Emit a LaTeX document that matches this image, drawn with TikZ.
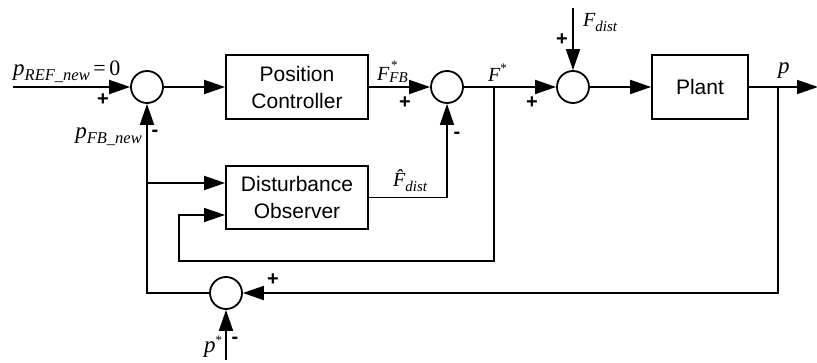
\documentclass[tikz,border=0pt]{standalone}
\usepackage{fontspec}
\setmainfont{Liberation Sans}
\newfontfamily\tms{Liberation Serif}
\usetikzlibrary{arrows.meta}
\newcommand\vsym[1]{{\tms\itshape\fontsize{20}{20}\selectfont #1}}
\newcommand\vpp{{\tms\itshape\fontsize{23}{23}\selectfont p}}
\newcommand\vsub[2][5pt]{\raisebox{-#1}{\tms\itshape\fontsize{15}{15}\selectfont #2}}
\newcommand\vsubb[1]{\raisebox{-5pt}{\tms\itshape\fontsize{16.5}{16.5}\selectfont #1}}
\newcommand\vsup{\raisebox{9pt}{\tms\fontsize{13}{13}\selectfont *}}
\begin{document}
\begin{tikzpicture}[x=1pt,y=-1pt,
  line/.style={line width=1.8pt},
  thinline/.style={line width=1.2pt},
  arr/.style={-{Triangle[length=21pt,width=14pt]}},
  sumnode/.style={circle,draw,line width=1.8pt,minimum size=32pt,inner sep=0pt},
  blk/.style={draw,line width=1.8pt,minimum width=142pt,minimum height=64pt,align=center,inner sep=0pt,font=\fontsize{21}{27}\selectfont},
  sgn/.style={font=\bfseries\fontsize{20}{20}\selectfont,inner sep=0pt},
  lbl/.style={inner sep=0pt}]
\useasboundingbox (0,0) rectangle (817,363);
% nodes
\node[sumnode] (s1) at (147,87) {};
\node[blk] (pc) at (297,87) {Position\\Controller};
\node[sumnode] (s2) at (447,87) {};
\node[sumnode] (s3) at (573,87) {};
\node[blk,minimum width=96pt] (plant) at (700,87) {Plant};
\node[blk,minimum height=63pt] (dob) at (297,197.5) {Disturbance\\Observer};
\node[sumnode] (s4) at (226,293) {};
\coordinate (in) at (13,87);
\coordinate (out) at (818,87);
\coordinate (fd) at (573,8);
\coordinate (ps) at (226,360);
\coordinate (bp) at (778,87);
\coordinate (bf) at (494,87);
\coordinate (fbl) at (147,183);
\coordinate (il) at (179,261);
% connectors
\draw[line,arr] (in) -- (s1);
\draw[line,arr] (s1) -- (pc);
\draw[line,arr] (pc) -- (s2);
\draw[line,arr] (s2) -- (s3);
\draw[line,arr] (s3) -- (plant);
\draw[line,arr] (plant) -- (out);
\draw[line,arr] (fd) -- (s3);
\draw[line,arr] (bp) |- (s4);
\draw[line,arr] (s4) -| (s1);
\draw[line,arr] (fbl) -- ([yshift=14.5pt]dob.west);
\draw[thinline,arr] (bf) |- (il) |- ([yshift=-17.5pt]dob.west);
\draw[thinline,arr] (dob.east) -| (s2);
\draw[line,arr] (ps) -- (s4);
% labels
\node[lbl,anchor=base west] (lref) at (13,76) {\vpp\vsubb{REF\_new}{\tms\fontsize{22}{22}\selectfont\,=\,0}};
\node[lbl,anchor=base east] (lfb) at (142,139) {\vpp\vsubb{FB\_new}};
\node[lbl,anchor=base west] (lffb) at (377,81) {\vsym{F}\vsub[2pt]{FB}};
\node[lbl,anchor=base west] (lffbs) at (391,70) {\tms\fontsize{13}{13}\selectfont *};
\node[lbl,anchor=base west] (lf) at (488,82) {\vsym{F}\vsup};
\node[lbl,anchor=base west] (lfd) at (583,27) {\vsym{F}\vsub{dist}};
\node[lbl,anchor=base west] (lp) at (778,74) {\vpp};
\node[lbl,anchor=base west] (lfh) at (393,187) {\vsym{\^{F}}\vsub{dist}};
\node[lbl,anchor=base west] (lps) at (204,353) {\vpp\vsup};
% signs
\node[sgn] (p1) at (103,100) {+};
\node[sgn] (p2) at (405,103) {+};
\node[sgn] (p3) at (532,103) {+};
\node[sgn] (p4) at (562,40) {+};
\node[sgn] (p5) at (273,280) {+};
\node[sgn] (m1) at (155,133) {-};
\node[sgn] (m2) at (457,135) {-};
\node[sgn] (m3) at (235,340) {-};
\end{tikzpicture}
\end{document}
